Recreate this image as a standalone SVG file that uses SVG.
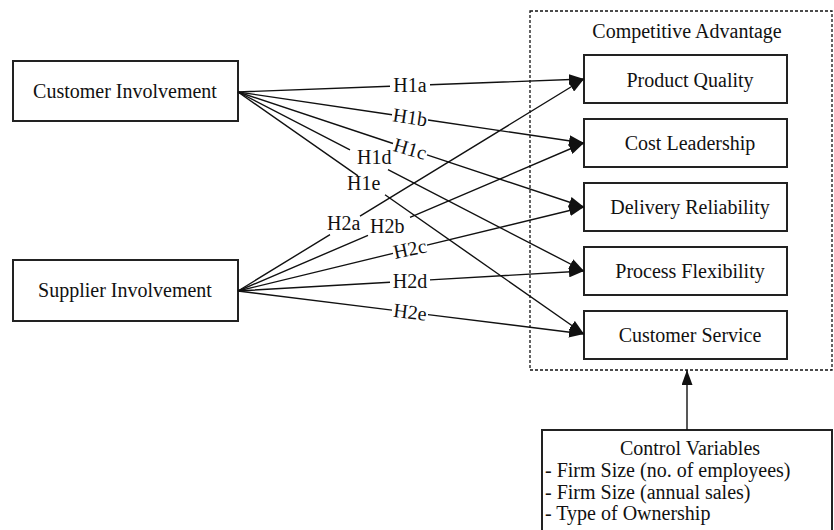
<svg xmlns="http://www.w3.org/2000/svg" width="834" height="530" viewBox="0 0 834 530">
<style>
  text { font-family: "Liberation Serif", "Times New Roman", serif; font-size: 20px; fill: #111; }
  .box { fill: #fff; stroke: #222; stroke-width: 2; }
  .dash { fill: none; stroke: #111; stroke-width: 1.3; stroke-dasharray: 3 2; }
  .conn { fill: none; stroke: #111; stroke-width: 1.4; }
  .mid { text-anchor: middle; }
</style>
<defs>
  <marker id="arr" markerUnits="userSpaceOnUse" markerWidth="15" markerHeight="11" refX="15" refY="5.5" orient="auto">
    <path d="M0,0 L15,5.5 L0,11 z" fill="#111"/>
  </marker>
</defs>
<rect width="834" height="530" fill="#fff"/>

<g id="competitive-advantage">
  <rect class="dash" x="530" y="11" width="302" height="359"/>
  <text class="mid" x="687" y="38">Competitive Advantage</text>
</g>

<g id="customer-involvement">
  <rect class="box" x="13" y="61" width="225" height="60"/>
  <text class="mid" x="125" y="98">Customer Involvement</text>
</g>
<g id="supplier-involvement">
  <rect class="box" x="13" y="260" width="225" height="61"/>
  <text class="mid" x="125" y="297">Supplier Involvement</text>
</g>

<g id="product-quality">
  <rect class="box" x="584" y="55" width="203" height="48"/>
  <text class="mid" x="690" y="87">Product Quality</text>
</g>
<g id="cost-leadership">
  <rect class="box" x="584" y="119" width="203" height="48"/>
  <text class="mid" x="690" y="150">Cost Leadership</text>
</g>
<g id="delivery-reliability">
  <rect class="box" x="584" y="183" width="203" height="48"/>
  <text class="mid" x="690" y="214">Delivery Reliability</text>
</g>
<g id="process-flexibility">
  <rect class="box" x="584" y="247" width="203" height="48"/>
  <text class="mid" x="690" y="278">Process Flexibility</text>
</g>
<g id="customer-service">
  <rect class="box" x="584" y="311" width="203" height="48"/>
  <text class="mid" x="690" y="342">Customer Service</text>
</g>

<g id="control-variables">
  <rect class="box" x="542" y="430" width="290" height="110"/>
  <text class="mid" x="690" y="455">Control Variables</text>
  <text x="545" y="477">- Firm Size (no. of employees)</text>
  <text x="545" y="499">- Firm Size (annual sales)</text>
  <text x="545" y="520">- Type of Ownership</text>
</g>

<g id="connectors">
  <!-- Customer Involvement -->
  <path class="conn" marker-end="url(#arr)" d="M238,92 L390,86.3 M430,84.8 L584,79"/>
  <path class="conn" marker-end="url(#arr)" d="M238,92 L392,114.7 M428,120 L584,143"/>
  <path class="conn" marker-end="url(#arr)" d="M238,92 L393,143.5 M427,154.8 L584,207"/>
  <path class="conn" marker-end="url(#arr)" d="M238,92 L350,149.9 M388,169.6 L584,271"/>
  <path class="conn" marker-end="url(#arr)" d="M238,92 L358,175.9 M385,194.8 L584,334"/>
  <!-- Supplier Involvement -->
  <path class="conn" marker-end="url(#arr)" d="M238,291 L330,234.6 M360,216.2 L584,79"/>
  <path class="conn" marker-end="url(#arr)" d="M238,291 L368,235.4 M410,217.4 L584,143"/>
  <path class="conn" marker-end="url(#arr)" d="M238,291 L393,253.4 M427,245.1 L584,207"/>
  <path class="conn" marker-end="url(#arr)" d="M238,291 L390,282.2 M430,279.9 L584,271"/>
  <path class="conn" marker-end="url(#arr)" d="M238,291 L392,310.1 M428,314.6 L584,334"/>
  <!-- Control -->
  <path class="conn" marker-end="url(#arr)" d="M687,430 L687,370"/>
</g>

<g id="labels">
  <text class="mid" x="410" y="92">H1a</text>
  <text class="mid" transform="translate(410,117.4) rotate(8.4)" x="0" y="6.5">H1b</text>
  <text class="mid" transform="translate(410,149.2) rotate(16)" x="0" y="6.5">H1c</text>
  <text x="357" y="164">H1d</text>
  <text x="347" y="190">H1e</text>
  <text x="327" y="230">H2a</text>
  <text x="370" y="233">H2b</text>
  <text class="mid" transform="translate(410,249.2) rotate(-12)" x="0" y="6.5">H2c</text>
  <text class="mid" x="410" y="288">H2d</text>
  <text class="mid" transform="translate(410,312.4) rotate(7)" x="0" y="6.5">H2e</text>
</g>
</svg>
